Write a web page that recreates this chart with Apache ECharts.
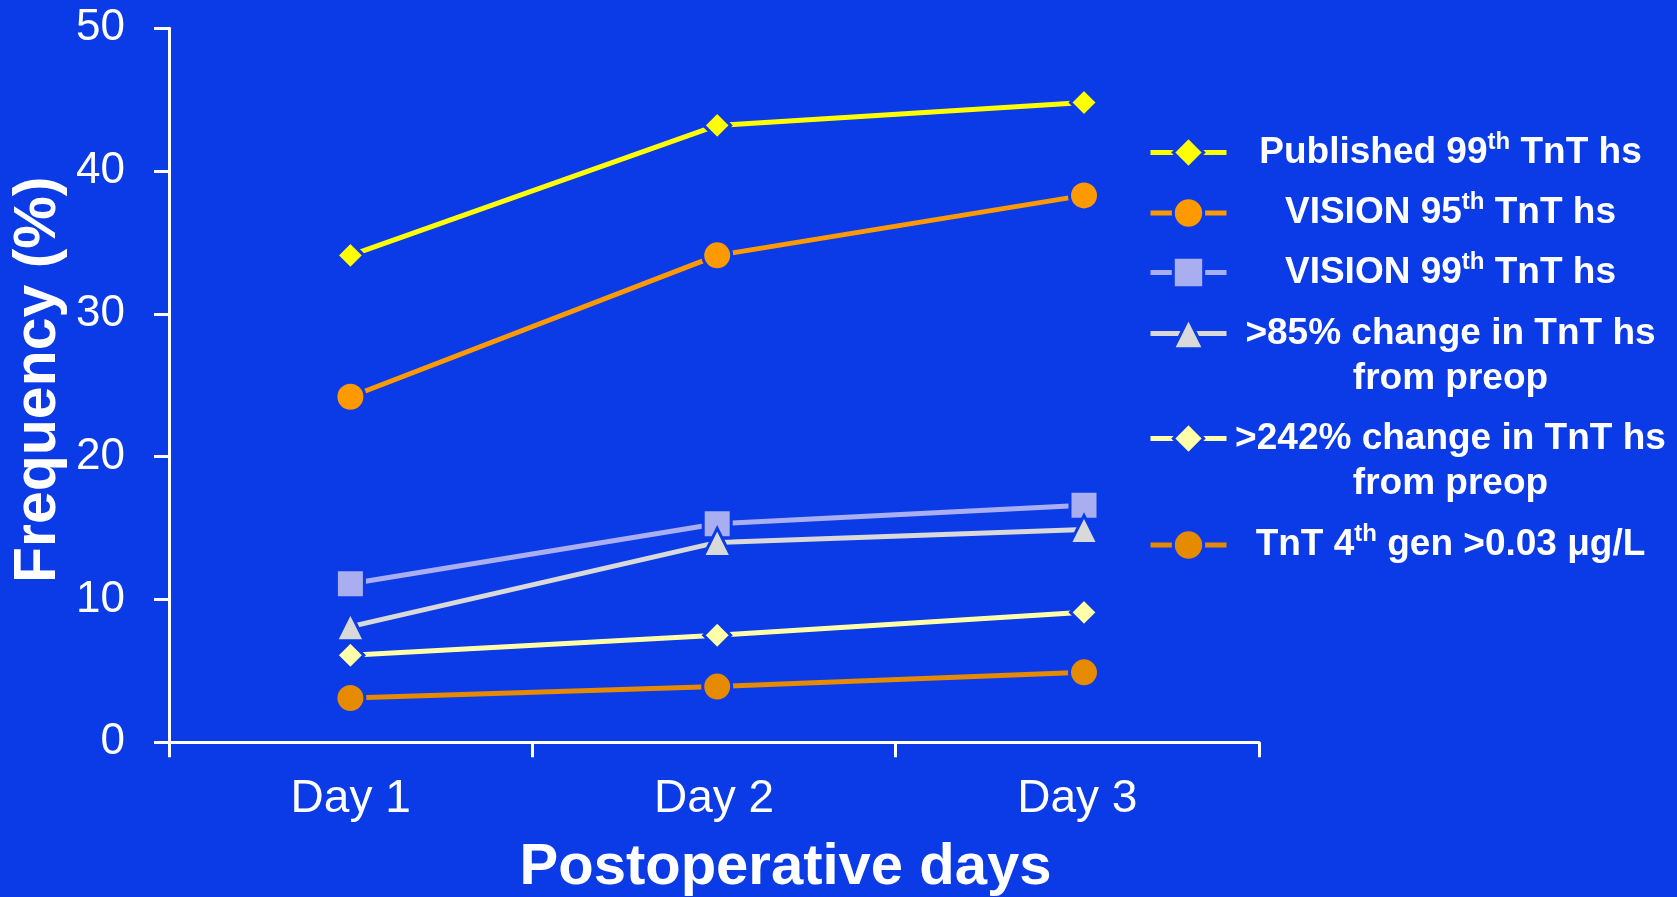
<!DOCTYPE html>
<html>
<head>
<meta charset="utf-8">
<title>Frequency by postoperative day</title>
<script src="https://cdn.jsdelivr.net/npm/echarts@6/dist/echarts.min.js"></script>
<style>
  html, body { margin: 0; padding: 0; background: #0b3be7; }
  #chart { width: 1677px; height: 897px; }
</style>
</head>
<body>
<div id="chart"></div>
<script>
// ---- data ----
const days = ['Day 1', 'Day 2', 'Day 3'];
const yTickValues = [0, 10, 20, 30, 40, 50];

const seriesNames = [
  'Published 99th TnT hs',
  'VISION 95th TnT hs',
  'VISION 99th TnT hs',
  '>85% change in TnT hs from preop',
  '>242% change in TnT hs from preop',
  'TnT 4th gen >0.03 μg/L'
];
const published99 = [34.1, 43.2, 44.8];
const vision95 = [24.2, 34.1, 38.3];
const vision99 = [11.1, 15.3, 16.6];
const change85 = [8.1, 14.0, 14.9];
const change242 = [6.1, 7.5, 9.1];
const gen4 = [3.1, 3.9, 4.9];

// legend text, with superscripts and line breaks
const legendLabels = [
  '{m|Published 99}{s|th}{m| TnT hs}',
  '{m|VISION 95}{s|th}{m| TnT hs}',
  '{m|VISION 99}{s|th}{m| TnT hs}',
  '{m|>85% change in TnT hs}\n{m|from preop}',
  '{m|>242% change in TnT hs}\n{m|from preop}',
  '{m|TnT 4}{s|th}{m| gen >0.03 μg/L}'
];

// ---- styles ----
const BG = '#0b3be7';
const FONT = "'Liberation Sans', Arial, Helvetica, sans-serif";
const colors = ['#ffff00', '#ff9900', '#a9aef0', '#d9d9d9', '#ffffaa', '#e68a00'];
const symbols = ['diamond', 'circle', 'rect', 'triangle', 'diamond', 'circle'];
const symbolSizes = [27, 29, 28, 28, 27, 29];
const seriesData = [published99, vision95, vision99, change85, change242, gen4];

// lines and markers live on a hidden category axis whose day slots are
// slightly wider than the visible axis below them
const series = seriesNames.map((name, i) => ({
  type: 'line',
  name: name,
  data: seriesData[i],
  xAxisIndex: 1,
  yAxisIndex: 1,
  symbol: symbols[i],
  symbolSize: symbolSizes[i],
  showAllSymbol: true,
  lineStyle: { color: colors[i], width: 5 },
  itemStyle: { color: colors[i], borderColor: BG, borderWidth: 3 },
  emphasis: { disabled: true },
  silent: true
}));

// one legend block per series so each can sit at its own row
const legendIconCenters = [152.5, 213, 272.5, 333.5, 438.5, 545];
const legends = seriesNames.map((name, i) => {
  const twoLines = legendLabels[i].indexOf('\n') >= 0;
  return {
    data: [name],
    orient: 'vertical',
    left: 1148,
    top: legendIconCenters[i] - (twoLines ? 67.5 : 22.5),
    padding: 0,
    itemGap: 0,
    itemWidth: 76,
    itemHeight: 38,
    selectedMode: false,
    itemStyle: { borderColor: BG, borderWidth: 3 },
    lineStyle: { width: 5 },
    formatter: () => legendLabels[i],
    textStyle: {
      width: 438,
      overflow: 'none',
      lineHeight: 45,
      padding: twoLines ? [45, 0, 0, 0] : 0,
      backgroundColor: 'rgba(0,0,0,0)',
      rich: {
        m: { fontFamily: FONT, fontSize: 37, fontWeight: 'bold', color: '#ffffff', align: 'center', lineHeight: 45 },
        s: { fontFamily: FONT, fontSize: 24, fontWeight: 'bold', color: '#ffffff', align: 'center', verticalAlign: 'top', lineHeight: 35 }
      }
    }
  };
});

const yRange = {
  type: 'value',
  min: yTickValues[0],
  max: yTickValues[yTickValues.length - 1],
  interval: yTickValues[1] - yTickValues[0]
};

const chart = echarts.init(document.getElementById('chart'), null, { renderer: 'canvas' });
chart.setOption({
  animation: false,
  backgroundColor: BG,
  grid: [
    { left: 169, right: 418, top: 28.3, bottom: 154.7, containLabel: false, outerBoundsMode: 'none' },
    { left: 167, right: 409.6, top: 28.3, bottom: 154.7, containLabel: false, outerBoundsMode: 'none' }
  ],
  legend: legends,
  xAxis: [{
    gridIndex: 0,
    type: 'category',
    data: days,
    boundaryGap: true,
    name: 'Postoperative days',
    nameLocation: 'middle',
    nameGap: 97,
    nameMoveOverlap: false,
    nameTextStyle: { fontFamily: FONT, fontSize: 58, fontWeight: 'bold', color: '#ffffff', padding: [0, 0, 0, 143] },
    axisLine: { lineStyle: { color: '#ffffff', width: 3 } },
    axisTick: { show: true, alignWithLabel: false, length: 15, lineStyle: { color: '#ffffff', width: 3 } },
    axisLabel: { fontFamily: FONT, fontSize: 46, color: '#ffffff', margin: 34 },
    splitLine: { show: false }
  }, {
    gridIndex: 1,
    type: 'category',
    data: days,
    boundaryGap: true,
    show: false
  }],
  yAxis: [Object.assign({}, yRange, {
    gridIndex: 0,
    name: 'Frequency (%)',
    nameLocation: 'middle',
    nameRotate: 90,
    nameGap: 101,
    nameMoveOverlap: false,
    nameTextStyle: { fontFamily: FONT, fontSize: 59, fontWeight: 'bold', color: '#ffffff', padding: [0, 0, 0, 11] },
    axisLine: { show: true, lineStyle: { color: '#ffffff', width: 3 } },
    axisTick: { show: true, length: 15, lineStyle: { color: '#ffffff', width: 3 } },
    axisLabel: { fontFamily: FONT, fontSize: 44, color: '#ffffff', margin: 44 },
    splitLine: { show: false }
  }), Object.assign({}, yRange, {
    gridIndex: 1,
    show: false,
    splitLine: { show: false }
  })],
  tooltip: { show: false },
  series: series
});
</script>
</body>
</html>
